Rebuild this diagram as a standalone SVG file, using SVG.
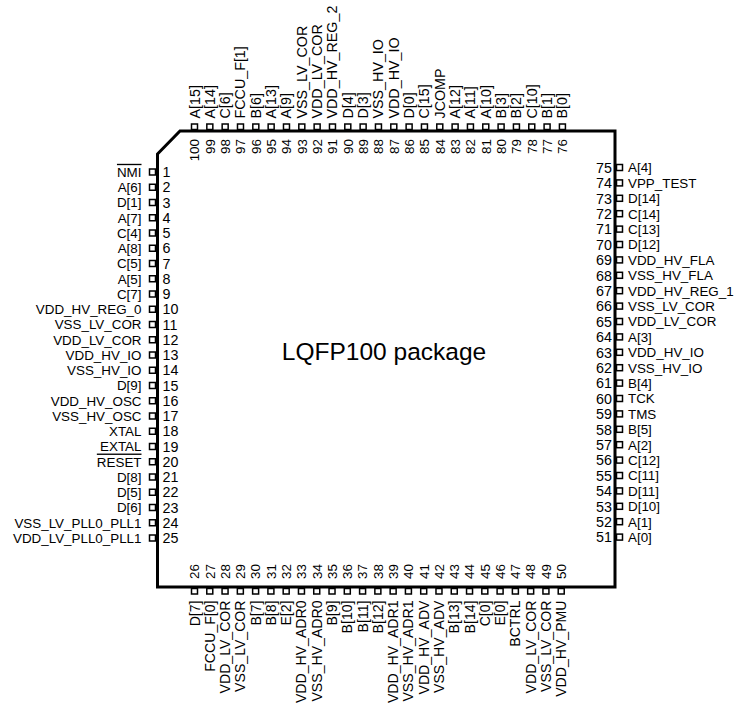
<svg xmlns="http://www.w3.org/2000/svg" width="744" height="704" viewBox="0 0 744 704">
<style>
text{font-family:"Liberation Sans",Arial,Helvetica,sans-serif;fill:#000}
.p{fill:#fff;stroke:#000;stroke-width:1.5}
.ll{font-size:13.4px;text-anchor:end}
.lr{font-size:13.4px;text-anchor:start}
.nl{font-size:14.3px;text-anchor:start}
.nr{font-size:14.3px;text-anchor:end}
.lt{font-size:14.3px;text-anchor:start}
.lb{font-size:14.1px;text-anchor:end}
.nt{font-size:13.4px;text-anchor:end}
.nb{font-size:13.4px;text-anchor:start}
.ov{text-decoration:overline}
.outline{fill:none;stroke:#000;stroke-width:3;stroke-linejoin:miter}
</style>
<rect width="744" height="704" fill="#fff"/>
<g id="package">
<path class="outline" d="M157.5,154 L180,131 L615,131 L615,587 L157.5,587 Z"/>
<text x="384" y="360" font-size="24.5" text-anchor="middle">LQFP100 package</text>
</g>
<g id="left-pins">
<g id="pin-1" transform="translate(0,172)"><rect class="p" x="149.5" y="-3" width="6" height="6"/><text class="ll ov" x="141.5" y="4.8">NMI</text><text class="nl" x="162.5" y="5.2">1</text></g>
<g id="pin-2" transform="translate(0,187.25)"><rect class="p" x="149.5" y="-3" width="6" height="6"/><text class="ll" x="141.5" y="4.8">A[6]</text><text class="nl" x="162.5" y="5.2">2</text></g>
<g id="pin-3" transform="translate(0,202.5)"><rect class="p" x="149.5" y="-3" width="6" height="6"/><text class="ll" x="141.5" y="4.8">D[1]</text><text class="nl" x="162.5" y="5.2">3</text></g>
<g id="pin-4" transform="translate(0,217.75)"><rect class="p" x="149.5" y="-3" width="6" height="6"/><text class="ll" x="141.5" y="4.8">A[7]</text><text class="nl" x="162.5" y="5.2">4</text></g>
<g id="pin-5" transform="translate(0,233)"><rect class="p" x="149.5" y="-3" width="6" height="6"/><text class="ll" x="141.5" y="4.8">C[4]</text><text class="nl" x="162.5" y="5.2">5</text></g>
<g id="pin-6" transform="translate(0,248.25)"><rect class="p" x="149.5" y="-3" width="6" height="6"/><text class="ll" x="141.5" y="4.8">A[8]</text><text class="nl" x="162.5" y="5.2">6</text></g>
<g id="pin-7" transform="translate(0,263.5)"><rect class="p" x="149.5" y="-3" width="6" height="6"/><text class="ll" x="141.5" y="4.8">C[5]</text><text class="nl" x="162.5" y="5.2">7</text></g>
<g id="pin-8" transform="translate(0,278.75)"><rect class="p" x="149.5" y="-3" width="6" height="6"/><text class="ll" x="141.5" y="4.8">A[5]</text><text class="nl" x="162.5" y="5.2">8</text></g>
<g id="pin-9" transform="translate(0,294)"><rect class="p" x="149.5" y="-3" width="6" height="6"/><text class="ll" x="141.5" y="4.8">C[7]</text><text class="nl" x="162.5" y="5.2">9</text></g>
<g id="pin-10" transform="translate(0,309.25)"><rect class="p" x="149.5" y="-3" width="6" height="6"/><text class="ll" x="141.5" y="4.8">VDD_HV_REG_0</text><text class="nl" x="162.5" y="5.2">10</text></g>
<g id="pin-11" transform="translate(0,324.5)"><rect class="p" x="149.5" y="-3" width="6" height="6"/><text class="ll" x="141.5" y="4.8">VSS_LV_COR</text><text class="nl" x="162.5" y="5.2">11</text></g>
<g id="pin-12" transform="translate(0,339.75)"><rect class="p" x="149.5" y="-3" width="6" height="6"/><text class="ll" x="141.5" y="4.8">VDD_LV_COR</text><text class="nl" x="162.5" y="5.2">12</text></g>
<g id="pin-13" transform="translate(0,355)"><rect class="p" x="149.5" y="-3" width="6" height="6"/><text class="ll" x="141.5" y="4.8">VDD_HV_IO</text><text class="nl" x="162.5" y="5.2">13</text></g>
<g id="pin-14" transform="translate(0,370.25)"><rect class="p" x="149.5" y="-3" width="6" height="6"/><text class="ll" x="141.5" y="4.8">VSS_HV_IO</text><text class="nl" x="162.5" y="5.2">14</text></g>
<g id="pin-15" transform="translate(0,385.5)"><rect class="p" x="149.5" y="-3" width="6" height="6"/><text class="ll" x="141.5" y="4.8">D[9]</text><text class="nl" x="162.5" y="5.2">15</text></g>
<g id="pin-16" transform="translate(0,400.75)"><rect class="p" x="149.5" y="-3" width="6" height="6"/><text class="ll" x="141.5" y="4.8">VDD_HV_OSC</text><text class="nl" x="162.5" y="5.2">16</text></g>
<g id="pin-17" transform="translate(0,416)"><rect class="p" x="149.5" y="-3" width="6" height="6"/><text class="ll" x="141.5" y="4.8">VSS_HV_OSC</text><text class="nl" x="162.5" y="5.2">17</text></g>
<g id="pin-18" transform="translate(0,431.25)"><rect class="p" x="149.5" y="-3" width="6" height="6"/><text class="ll" x="141.5" y="4.8">XTAL</text><text class="nl" x="162.5" y="5.2">18</text></g>
<g id="pin-19" transform="translate(0,446.5)"><rect class="p" x="149.5" y="-3" width="6" height="6"/><text class="ll" x="141.5" y="4.8">EXTAL</text><text class="nl" x="162.5" y="5.2">19</text></g>
<g id="pin-20" transform="translate(0,461.75)"><rect class="p" x="149.5" y="-3" width="6" height="6"/><text class="ll ov" x="141.5" y="4.8">RESET</text><text class="nl" x="162.5" y="5.2">20</text></g>
<g id="pin-21" transform="translate(0,477)"><rect class="p" x="149.5" y="-3" width="6" height="6"/><text class="ll" x="141.5" y="4.8">D[8]</text><text class="nl" x="162.5" y="5.2">21</text></g>
<g id="pin-22" transform="translate(0,492.25)"><rect class="p" x="149.5" y="-3" width="6" height="6"/><text class="ll" x="141.5" y="4.8">D[5]</text><text class="nl" x="162.5" y="5.2">22</text></g>
<g id="pin-23" transform="translate(0,507.5)"><rect class="p" x="149.5" y="-3" width="6" height="6"/><text class="ll" x="141.5" y="4.8">D[6]</text><text class="nl" x="162.5" y="5.2">23</text></g>
<g id="pin-24" transform="translate(0,522.75)"><rect class="p" x="149.5" y="-3" width="6" height="6"/><text class="ll" x="141.5" y="4.8">VSS_LV_PLL0_PLL1</text><text class="nl" x="162.5" y="5.2">24</text></g>
<g id="pin-25" transform="translate(0,538)"><rect class="p" x="149.5" y="-3" width="6" height="6"/><text class="ll" x="141.5" y="4.8">VDD_LV_PLL0_PLL1</text><text class="nl" x="162.5" y="5.2">25</text></g>
</g>
<g id="bottom-pins">
<g id="pin-26" transform="translate(194.5,0)"><rect class="p" x="-3" y="588.5" width="6" height="5.5"/><text class="lb" transform="translate(5,600.5) rotate(-90)">D[7]</text><text class="nb" transform="translate(4.8,579) rotate(-90)">26</text></g>
<g id="pin-27" transform="translate(209.78,0)"><rect class="p" x="-3" y="588.5" width="6" height="5.5"/><text class="lb" transform="translate(5,600.5) rotate(-90)">FCCU_F[0]</text><text class="nb" transform="translate(4.8,579) rotate(-90)">27</text></g>
<g id="pin-28" transform="translate(225.06,0)"><rect class="p" x="-3" y="588.5" width="6" height="5.5"/><text class="lb" transform="translate(5,600.5) rotate(-90)">VDD_LV_COR</text><text class="nb" transform="translate(4.8,579) rotate(-90)">28</text></g>
<g id="pin-29" transform="translate(240.34,0)"><rect class="p" x="-3" y="588.5" width="6" height="5.5"/><text class="lb" transform="translate(5,600.5) rotate(-90)">VSS_LV_COR</text><text class="nb" transform="translate(4.8,579) rotate(-90)">29</text></g>
<g id="pin-30" transform="translate(255.62,0)"><rect class="p" x="-3" y="588.5" width="6" height="5.5"/><text class="lb" transform="translate(5,600.5) rotate(-90)">B[7]</text><text class="nb" transform="translate(4.8,579) rotate(-90)">30</text></g>
<g id="pin-31" transform="translate(270.9,0)"><rect class="p" x="-3" y="588.5" width="6" height="5.5"/><text class="lb" transform="translate(5,600.5) rotate(-90)">B[8]</text><text class="nb" transform="translate(4.8,579) rotate(-90)">31</text></g>
<g id="pin-32" transform="translate(286.18,0)"><rect class="p" x="-3" y="588.5" width="6" height="5.5"/><text class="lb" transform="translate(5,600.5) rotate(-90)">E[2]</text><text class="nb" transform="translate(4.8,579) rotate(-90)">32</text></g>
<g id="pin-33" transform="translate(301.46,0)"><rect class="p" x="-3" y="588.5" width="6" height="5.5"/><text class="lb" transform="translate(5,600.5) rotate(-90)">VDD_HV_ADR0</text><text class="nb" transform="translate(4.8,579) rotate(-90)">33</text></g>
<g id="pin-34" transform="translate(316.74,0)"><rect class="p" x="-3" y="588.5" width="6" height="5.5"/><text class="lb" transform="translate(5,600.5) rotate(-90)">VSS_HV_ADR0</text><text class="nb" transform="translate(4.8,579) rotate(-90)">34</text></g>
<g id="pin-35" transform="translate(332.02,0)"><rect class="p" x="-3" y="588.5" width="6" height="5.5"/><text class="lb" transform="translate(5,600.5) rotate(-90)">B[9]</text><text class="nb" transform="translate(4.8,579) rotate(-90)">35</text></g>
<g id="pin-36" transform="translate(347.3,0)"><rect class="p" x="-3" y="588.5" width="6" height="5.5"/><text class="lb" transform="translate(5,600.5) rotate(-90)">B[10]</text><text class="nb" transform="translate(4.8,579) rotate(-90)">36</text></g>
<g id="pin-37" transform="translate(362.58,0)"><rect class="p" x="-3" y="588.5" width="6" height="5.5"/><text class="lb" transform="translate(5,600.5) rotate(-90)">B[11]</text><text class="nb" transform="translate(4.8,579) rotate(-90)">37</text></g>
<g id="pin-38" transform="translate(377.86,0)"><rect class="p" x="-3" y="588.5" width="6" height="5.5"/><text class="lb" transform="translate(5,600.5) rotate(-90)">B[12]</text><text class="nb" transform="translate(4.8,579) rotate(-90)">38</text></g>
<g id="pin-39" transform="translate(393.14,0)"><rect class="p" x="-3" y="588.5" width="6" height="5.5"/><text class="lb" transform="translate(5,600.5) rotate(-90)">VDD_HV_ADR1</text><text class="nb" transform="translate(4.8,579) rotate(-90)">39</text></g>
<g id="pin-40" transform="translate(408.42,0)"><rect class="p" x="-3" y="588.5" width="6" height="5.5"/><text class="lb" transform="translate(5,600.5) rotate(-90)">VSS_HV_ADR1</text><text class="nb" transform="translate(4.8,579) rotate(-90)">40</text></g>
<g id="pin-41" transform="translate(423.7,0)"><rect class="p" x="-3" y="588.5" width="6" height="5.5"/><text class="lb" transform="translate(5,600.5) rotate(-90)">VDD_HV_ADV</text><text class="nb" transform="translate(4.8,579) rotate(-90)">41</text></g>
<g id="pin-42" transform="translate(438.98,0)"><rect class="p" x="-3" y="588.5" width="6" height="5.5"/><text class="lb" transform="translate(5,600.5) rotate(-90)">VSS_HV_ADV</text><text class="nb" transform="translate(4.8,579) rotate(-90)">42</text></g>
<g id="pin-43" transform="translate(454.26,0)"><rect class="p" x="-3" y="588.5" width="6" height="5.5"/><text class="lb" transform="translate(5,600.5) rotate(-90)">B[13]</text><text class="nb" transform="translate(4.8,579) rotate(-90)">43</text></g>
<g id="pin-44" transform="translate(469.54,0)"><rect class="p" x="-3" y="588.5" width="6" height="5.5"/><text class="lb" transform="translate(5,600.5) rotate(-90)">B[14]</text><text class="nb" transform="translate(4.8,579) rotate(-90)">44</text></g>
<g id="pin-45" transform="translate(484.82,0)"><rect class="p" x="-3" y="588.5" width="6" height="5.5"/><text class="lb" transform="translate(5,600.5) rotate(-90)">C[0]</text><text class="nb" transform="translate(4.8,579) rotate(-90)">45</text></g>
<g id="pin-46" transform="translate(500.1,0)"><rect class="p" x="-3" y="588.5" width="6" height="5.5"/><text class="lb" transform="translate(5,600.5) rotate(-90)">E[0]</text><text class="nb" transform="translate(4.8,579) rotate(-90)">46</text></g>
<g id="pin-47" transform="translate(515.38,0)"><rect class="p" x="-3" y="588.5" width="6" height="5.5"/><text class="lb" transform="translate(5,600.5) rotate(-90)">BCTRL</text><text class="nb" transform="translate(4.8,579) rotate(-90)">47</text></g>
<g id="pin-48" transform="translate(530.66,0)"><rect class="p" x="-3" y="588.5" width="6" height="5.5"/><text class="lb" transform="translate(5,600.5) rotate(-90)">VDD_LV_COR</text><text class="nb" transform="translate(4.8,579) rotate(-90)">48</text></g>
<g id="pin-49" transform="translate(545.94,0)"><rect class="p" x="-3" y="588.5" width="6" height="5.5"/><text class="lb" transform="translate(5,600.5) rotate(-90)">VSS_LV_COR</text><text class="nb" transform="translate(4.8,579) rotate(-90)">49</text></g>
<g id="pin-50" transform="translate(561.22,0)"><rect class="p" x="-3" y="588.5" width="6" height="5.5"/><text class="lb" transform="translate(5,600.5) rotate(-90)">VDD_HV_PMU</text><text class="nb" transform="translate(4.8,579) rotate(-90)">50</text></g>
</g>
<g id="right-pins">
<g id="pin-51" transform="translate(0,537.1)"><rect class="p" x="616.5" y="-3" width="6" height="6"/><text class="lr" x="628" y="4.8">A[0]</text><text class="nr" x="612" y="5.2">51</text></g>
<g id="pin-52" transform="translate(0,521.7)"><rect class="p" x="616.5" y="-3" width="6" height="6"/><text class="lr" x="628" y="4.8">A[1]</text><text class="nr" x="612" y="5.2">52</text></g>
<g id="pin-53" transform="translate(0,506.3)"><rect class="p" x="616.5" y="-3" width="6" height="6"/><text class="lr" x="628" y="4.8">D[10]</text><text class="nr" x="612" y="5.2">53</text></g>
<g id="pin-54" transform="translate(0,490.9)"><rect class="p" x="616.5" y="-3" width="6" height="6"/><text class="lr" x="628" y="4.8">D[11]</text><text class="nr" x="612" y="5.2">54</text></g>
<g id="pin-55" transform="translate(0,475.5)"><rect class="p" x="616.5" y="-3" width="6" height="6"/><text class="lr" x="628" y="4.8">C[11]</text><text class="nr" x="612" y="5.2">55</text></g>
<g id="pin-56" transform="translate(0,460.1)"><rect class="p" x="616.5" y="-3" width="6" height="6"/><text class="lr" x="628" y="4.8">C[12]</text><text class="nr" x="612" y="5.2">56</text></g>
<g id="pin-57" transform="translate(0,444.7)"><rect class="p" x="616.5" y="-3" width="6" height="6"/><text class="lr" x="628" y="4.8">A[2]</text><text class="nr" x="612" y="5.2">57</text></g>
<g id="pin-58" transform="translate(0,429.3)"><rect class="p" x="616.5" y="-3" width="6" height="6"/><text class="lr" x="628" y="4.8">B[5]</text><text class="nr" x="612" y="5.2">58</text></g>
<g id="pin-59" transform="translate(0,413.9)"><rect class="p" x="616.5" y="-3" width="6" height="6"/><text class="lr" x="628" y="4.8">TMS</text><text class="nr" x="612" y="5.2">59</text></g>
<g id="pin-60" transform="translate(0,398.5)"><rect class="p" x="616.5" y="-3" width="6" height="6"/><text class="lr" x="628" y="4.8">TCK</text><text class="nr" x="612" y="5.2">60</text></g>
<g id="pin-61" transform="translate(0,383.1)"><rect class="p" x="616.5" y="-3" width="6" height="6"/><text class="lr" x="628" y="4.8">B[4]</text><text class="nr" x="612" y="5.2">61</text></g>
<g id="pin-62" transform="translate(0,367.7)"><rect class="p" x="616.5" y="-3" width="6" height="6"/><text class="lr" x="628" y="4.8">VSS_HV_IO</text><text class="nr" x="612" y="5.2">62</text></g>
<g id="pin-63" transform="translate(0,352.3)"><rect class="p" x="616.5" y="-3" width="6" height="6"/><text class="lr" x="628" y="4.8">VDD_HV_IO</text><text class="nr" x="612" y="5.2">63</text></g>
<g id="pin-64" transform="translate(0,336.9)"><rect class="p" x="616.5" y="-3" width="6" height="6"/><text class="lr" x="628" y="4.8">A[3]</text><text class="nr" x="612" y="5.2">64</text></g>
<g id="pin-65" transform="translate(0,321.5)"><rect class="p" x="616.5" y="-3" width="6" height="6"/><text class="lr" x="628" y="4.8">VDD_LV_COR</text><text class="nr" x="612" y="5.2">65</text></g>
<g id="pin-66" transform="translate(0,306.1)"><rect class="p" x="616.5" y="-3" width="6" height="6"/><text class="lr" x="628" y="4.8">VSS_LV_COR</text><text class="nr" x="612" y="5.2">66</text></g>
<g id="pin-67" transform="translate(0,290.7)"><rect class="p" x="616.5" y="-3" width="6" height="6"/><text class="lr" x="628" y="4.8">VDD_HV_REG_1</text><text class="nr" x="612" y="5.2">67</text></g>
<g id="pin-68" transform="translate(0,275.3)"><rect class="p" x="616.5" y="-3" width="6" height="6"/><text class="lr" x="628" y="4.8">VSS_HV_FLA</text><text class="nr" x="612" y="5.2">68</text></g>
<g id="pin-69" transform="translate(0,259.9)"><rect class="p" x="616.5" y="-3" width="6" height="6"/><text class="lr" x="628" y="4.8">VDD_HV_FLA</text><text class="nr" x="612" y="5.2">69</text></g>
<g id="pin-70" transform="translate(0,244.5)"><rect class="p" x="616.5" y="-3" width="6" height="6"/><text class="lr" x="628" y="4.8">D[12]</text><text class="nr" x="612" y="5.2">70</text></g>
<g id="pin-71" transform="translate(0,229.1)"><rect class="p" x="616.5" y="-3" width="6" height="6"/><text class="lr" x="628" y="4.8">C[13]</text><text class="nr" x="612" y="5.2">71</text></g>
<g id="pin-72" transform="translate(0,213.7)"><rect class="p" x="616.5" y="-3" width="6" height="6"/><text class="lr" x="628" y="4.8">C[14]</text><text class="nr" x="612" y="5.2">72</text></g>
<g id="pin-73" transform="translate(0,198.3)"><rect class="p" x="616.5" y="-3" width="6" height="6"/><text class="lr" x="628" y="4.8">D[14]</text><text class="nr" x="612" y="5.2">73</text></g>
<g id="pin-74" transform="translate(0,182.9)"><rect class="p" x="616.5" y="-3" width="6" height="6"/><text class="lr" x="628" y="4.8">VPP_TEST</text><text class="nr" x="612" y="5.2">74</text></g>
<g id="pin-75" transform="translate(0,167.5)"><rect class="p" x="616.5" y="-3" width="6" height="6"/><text class="lr" x="628" y="4.8">A[4]</text><text class="nr" x="612" y="5.2">75</text></g>
</g>
<g id="top-pins">
<g id="pin-76" transform="translate(562.42,0)"><rect class="p" x="-3" y="124" width="6" height="5.5"/><text class="lt" transform="translate(5,118.5) rotate(-90)">B[0]</text><text class="nt" transform="translate(4.8,139) rotate(-90)">76</text></g>
<g id="pin-77" transform="translate(547.09,0)"><rect class="p" x="-3" y="124" width="6" height="5.5"/><text class="lt" transform="translate(5,118.5) rotate(-90)">B[1]</text><text class="nt" transform="translate(4.8,139) rotate(-90)">77</text></g>
<g id="pin-78" transform="translate(531.76,0)"><rect class="p" x="-3" y="124" width="6" height="5.5"/><text class="lt" transform="translate(5,118.5) rotate(-90)">C[10]</text><text class="nt" transform="translate(4.8,139) rotate(-90)">78</text></g>
<g id="pin-79" transform="translate(516.43,0)"><rect class="p" x="-3" y="124" width="6" height="5.5"/><text class="lt" transform="translate(5,118.5) rotate(-90)">B[2]</text><text class="nt" transform="translate(4.8,139) rotate(-90)">79</text></g>
<g id="pin-80" transform="translate(501.1,0)"><rect class="p" x="-3" y="124" width="6" height="5.5"/><text class="lt" transform="translate(5,118.5) rotate(-90)">B[3]</text><text class="nt" transform="translate(4.8,139) rotate(-90)">80</text></g>
<g id="pin-81" transform="translate(485.77,0)"><rect class="p" x="-3" y="124" width="6" height="5.5"/><text class="lt" transform="translate(5,118.5) rotate(-90)">A[10]</text><text class="nt" transform="translate(4.8,139) rotate(-90)">81</text></g>
<g id="pin-82" transform="translate(470.44,0)"><rect class="p" x="-3" y="124" width="6" height="5.5"/><text class="lt" transform="translate(5,118.5) rotate(-90)">A[11]</text><text class="nt" transform="translate(4.8,139) rotate(-90)">82</text></g>
<g id="pin-83" transform="translate(455.11,0)"><rect class="p" x="-3" y="124" width="6" height="5.5"/><text class="lt" transform="translate(5,118.5) rotate(-90)">A[12]</text><text class="nt" transform="translate(4.8,139) rotate(-90)">83</text></g>
<g id="pin-84" transform="translate(439.78,0)"><rect class="p" x="-3" y="124" width="6" height="5.5"/><text class="lt" transform="translate(5,118.5) rotate(-90)">JCOMP</text><text class="nt" transform="translate(4.8,139) rotate(-90)">84</text></g>
<g id="pin-85" transform="translate(424.45,0)"><rect class="p" x="-3" y="124" width="6" height="5.5"/><text class="lt" transform="translate(5,118.5) rotate(-90)">C[15]</text><text class="nt" transform="translate(4.8,139) rotate(-90)">85</text></g>
<g id="pin-86" transform="translate(409.12,0)"><rect class="p" x="-3" y="124" width="6" height="5.5"/><text class="lt" transform="translate(5,118.5) rotate(-90)">D[0]</text><text class="nt" transform="translate(4.8,139) rotate(-90)">86</text></g>
<g id="pin-87" transform="translate(393.79,0)"><rect class="p" x="-3" y="124" width="6" height="5.5"/><text class="lt" transform="translate(5,118.5) rotate(-90)">VDD_HV_IO</text><text class="nt" transform="translate(4.8,139) rotate(-90)">87</text></g>
<g id="pin-88" transform="translate(378.46,0)"><rect class="p" x="-3" y="124" width="6" height="5.5"/><text class="lt" transform="translate(5,118.5) rotate(-90)">VSS_HV_IO</text><text class="nt" transform="translate(4.8,139) rotate(-90)">88</text></g>
<g id="pin-89" transform="translate(363.13,0)"><rect class="p" x="-3" y="124" width="6" height="5.5"/><text class="lt" transform="translate(5,118.5) rotate(-90)">D[3]</text><text class="nt" transform="translate(4.8,139) rotate(-90)">89</text></g>
<g id="pin-90" transform="translate(347.8,0)"><rect class="p" x="-3" y="124" width="6" height="5.5"/><text class="lt" transform="translate(5,118.5) rotate(-90)">D[4]</text><text class="nt" transform="translate(4.8,139) rotate(-90)">90</text></g>
<g id="pin-91" transform="translate(332.47,0)"><rect class="p" x="-3" y="124" width="6" height="5.5"/><text class="lt" transform="translate(5,118.5) rotate(-90)">VDD_HV_REG_2</text><text class="nt" transform="translate(4.8,139) rotate(-90)">91</text></g>
<g id="pin-92" transform="translate(317.14,0)"><rect class="p" x="-3" y="124" width="6" height="5.5"/><text class="lt" transform="translate(5,118.5) rotate(-90)">VDD_LV_COR</text><text class="nt" transform="translate(4.8,139) rotate(-90)">92</text></g>
<g id="pin-93" transform="translate(301.81,0)"><rect class="p" x="-3" y="124" width="6" height="5.5"/><text class="lt" transform="translate(5,118.5) rotate(-90)">VSS_LV_COR</text><text class="nt" transform="translate(4.8,139) rotate(-90)">93</text></g>
<g id="pin-94" transform="translate(286.48,0)"><rect class="p" x="-3" y="124" width="6" height="5.5"/><text class="lt" transform="translate(5,118.5) rotate(-90)">A[9]</text><text class="nt" transform="translate(4.8,139) rotate(-90)">94</text></g>
<g id="pin-95" transform="translate(271.15,0)"><rect class="p" x="-3" y="124" width="6" height="5.5"/><text class="lt" transform="translate(5,118.5) rotate(-90)">A[13]</text><text class="nt" transform="translate(4.8,139) rotate(-90)">95</text></g>
<g id="pin-96" transform="translate(255.82,0)"><rect class="p" x="-3" y="124" width="6" height="5.5"/><text class="lt" transform="translate(5,118.5) rotate(-90)">B[6]</text><text class="nt" transform="translate(4.8,139) rotate(-90)">96</text></g>
<g id="pin-97" transform="translate(240.49,0)"><rect class="p" x="-3" y="124" width="6" height="5.5"/><text class="lt" transform="translate(5,118.5) rotate(-90)">FCCU_F[1]</text><text class="nt" transform="translate(4.8,139) rotate(-90)">97</text></g>
<g id="pin-98" transform="translate(225.16,0)"><rect class="p" x="-3" y="124" width="6" height="5.5"/><text class="lt" transform="translate(5,118.5) rotate(-90)">C[6]</text><text class="nt" transform="translate(4.8,139) rotate(-90)">98</text></g>
<g id="pin-99" transform="translate(209.83,0)"><rect class="p" x="-3" y="124" width="6" height="5.5"/><text class="lt" transform="translate(5,118.5) rotate(-90)">A[14]</text><text class="nt" transform="translate(4.8,139) rotate(-90)">99</text></g>
<g id="pin-100" transform="translate(194.5,0)"><rect class="p" x="-3" y="124" width="6" height="5.5"/><text class="lt" transform="translate(5,118.5) rotate(-90)">A[15]</text><text class="nt" transform="translate(4.8,139) rotate(-90)">100</text></g>
</g>
</svg>
